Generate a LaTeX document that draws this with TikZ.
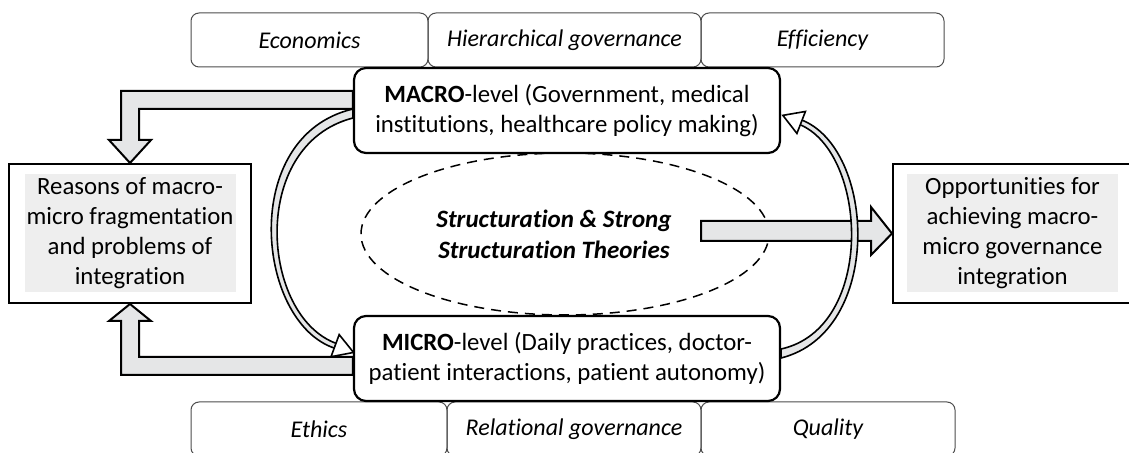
\documentclass[tikz,border=0pt]{standalone}
\usepackage{fontspec}
\setmainfont{Carlito}[Ligatures=NoCommon]
\usetikzlibrary{arrows.meta,calc,shapes.geometric}
\definecolor{arrowgray}{RGB}{229,230,231}
\definecolor{boxgray}{RGB}{238,238,238}

\begin{document}
\begin{tikzpicture}[x=0.5pt,y=-0.5pt,
  every node/.style={font=\fontsize{12.4}{15}\selectfont},
  tag/.style={draw=black!70,line width=.5pt,rounded corners=4pt,minimum height=27pt,inner sep=0pt,font=\fontsize{12}{15}\selectfont\itshape},
  level/.style={draw,fill=white,line width=1.1pt,rounded corners=6pt,minimum width=213pt,minimum height=42.5pt,inner sep=0pt,align=center},
  side/.style={draw,line width=1pt,minimum height=69.5pt,inner sep=0pt},
  shade/.style={fill=boxgray,minimum width=105.5pt,minimum height=59pt,inner sep=0pt,align=center},
  fat/.style={draw,line width=1pt,fill=arrowgray,line join=miter},
  band/.style={draw,line width=.8pt,fill=arrowgray},
  hollow/.style={line width=.8pt,-{Triangle[open,fill=white,length=11pt,width=13pt]}}]
\useasboundingbox (0,0) rectangle (1129,453);

% attribute tags above and below
\node[tag,minimum width=118.5pt] (econ) at (309.5,40) {Economics};
\node[tag,minimum width=136.5pt] (hier) at (564.5,40) {Hierarchical governance};
\node[tag,minimum width=121.5pt] (effi) at (822.5,40) {Efficiency};
\node[tag,minimum width=128pt] (ethic) at (319,429) {Ethics};
\node[tag,minimum width=127pt] (relat) at (574,429) {Relational governance};
\node[tag,minimum width=127pt] (qual) at (828,429) {Quality};

% the two levels
\node[level] (macro) at (567,110.5) {\textbf{MACRO}-level (Government, medical\\institutions, healthcare policy making)};
\node[level] (micro) at (567,358.5) {\textbf{MICRO}-level (Daily practices, doctor-\\patient interactions, patient autonomy)};

% side boxes
\node[side,minimum width=121pt] (reasons) at (130,233.5) {};
\node[shade] (reasonsTxt) at (reasons) {Reasons of macro-\\micro fragmentation\\and problems of\\integration};
\node[side,minimum width=119.5pt] (opp) at (1012.5,233.5) {};
\node[shade] (oppTxt) at (opp) {Opportunities for\\achieving macro-\\micro governance\\integration};

% theory in the middle
\node[draw,dashed,dash pattern=on 5pt off 3.5pt,line width=.75pt,ellipse,minimum width=204pt,minimum height=81pt,inner sep=0pt] (theory) at (565,234) {};
\node[align=center,font=\fontsize{12.5}{15.5}\selectfont\bfseries\itshape] (theoryTxt) at (554,234) {Structuration \& Strong\\Structuration Theories};

% fat arrows
\draw[fat] ($(macro.west)+(0,-19.5)$) -- (121,91) -- (121,140) -- (109,140) -- (reasons.north) -- (151,140) -- (139,140) -- (139,109) -- ($(macro.west)+(0,-1.5)$) -- cycle;
\draw[fat] ($(micro.west)+(0,16.5)$) -- (121,375) -- (121,321) -- (109,321) -- (reasons.south) -- (151,321) -- (139,321) -- (139,357) -- ($(micro.west)+(0,-1.5)$) -- cycle;
\draw[fat] (701,221) -- (871,221) -- (871,207) -- (opp.west) -- (871,255) -- (871,241) -- (701,241) -- cycle;

% curved links between the levels
\draw[band] ($(macro.west)+(0,-1.5)$) .. controls (238,136) and (256,323) .. (335.2,348.4)
  -- (336.8,343.6) .. controls (261,317) and (248,145) .. ($(macro.west)+(0,7.5)$) -- cycle;
\draw[hollow] (336,346) -- (355,353);
\draw[band] ($(micro.east)+(0,-0.5)$) .. controls (884,332) and (876,148) .. (800.9,119.7)
  -- (799.1,124.3) .. controls (868,152) and (876,328) .. ($(micro.east)+(0,-9.5)$) -- cycle;
\draw[hollow] (800,122) -- (781.4,114.8);
\end{tikzpicture}
\end{document}
